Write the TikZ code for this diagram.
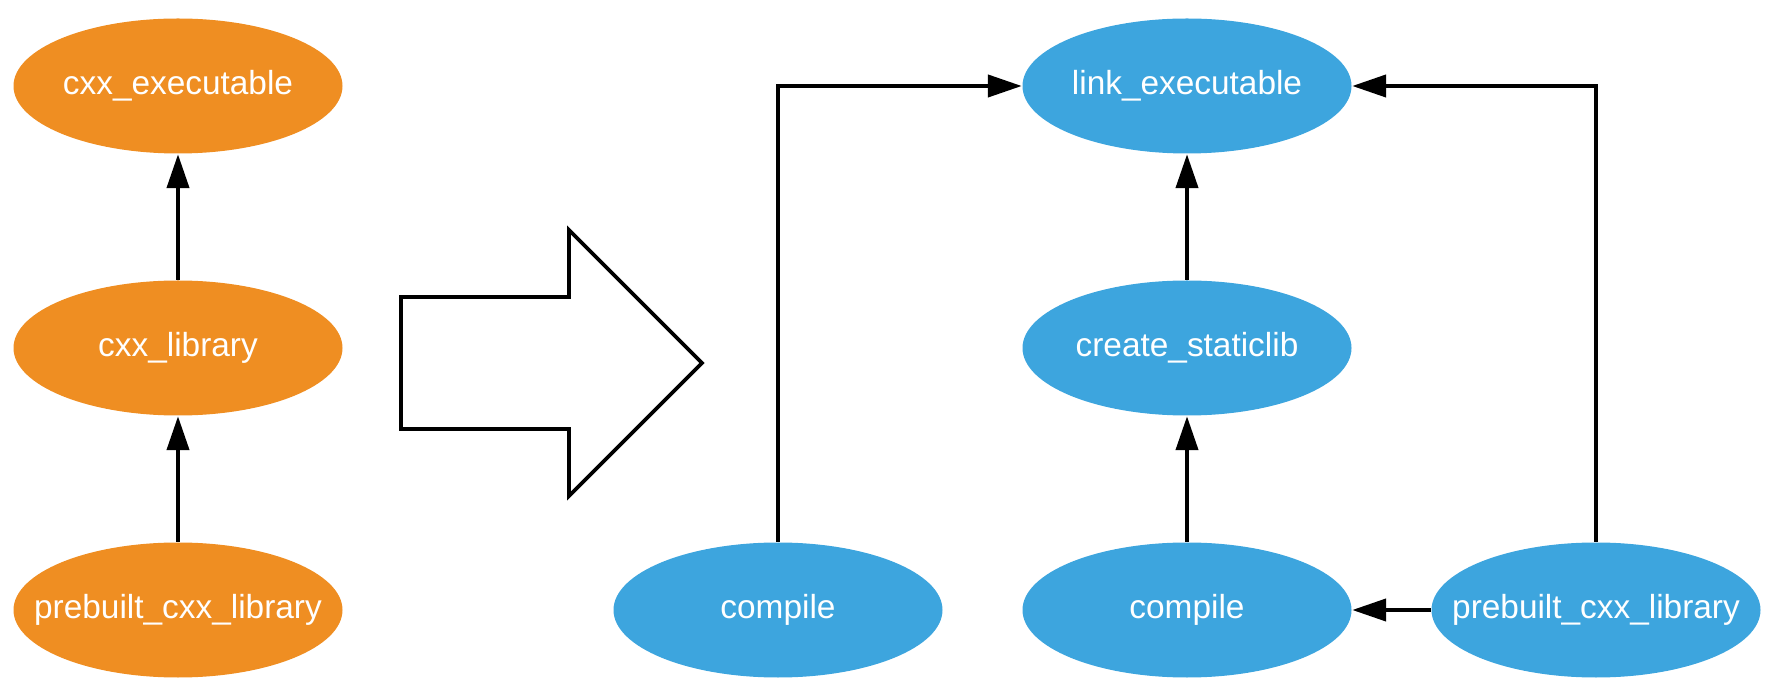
\documentclass[tikz,border=0pt]{standalone}
\usepackage{fontspec}
\setmainfont{Liberation Sans}
\usetikzlibrary{arrows.meta,positioning,shapes.geometric}
\definecolor{ruleOrange}{HTML}{EF8E22}
\definecolor{actionBlue}{HTML}{3DA5DE}

\begin{document}
\begin{tikzpicture}[>={Triangle[length=3.4mm,width=2.2mm]},
  rulenode/.style={ellipse,fill=ruleOrange,text=white,minimum width=3.29cm,minimum height=1.35cm,inner xsep=-3mm,inner ysep=0pt,font=\fontsize{9.5}{11}\selectfont},
  actnode/.style={rulenode,fill=actionBlue},
  edge/.style={->,draw=black,line width=1.2pt}]
\useasboundingbox (0,0) rectangle (17.78,-6.99);
% rule graph
\foreach \i/\name/\y in {0/cxx\_executable/-0.86,1/cxx\_library/-3.48,2/prebuilt\_cxx\_library/-6.10}{
  \node[rulenode] (r\i) at (1.78,\y) {\name};
}
\foreach \i in {0,1}{\pgfmathtruncatemacro{\j}{\i+1}\draw[edge] (r\j) -- (r\i);}
% big arrow
\draw[line width=1.1pt] (4.01,-2.97) -- (5.69,-2.97) -- (5.69,-2.30) -- (7.02,-3.63)
  -- (5.69,-4.96) -- (5.69,-4.29) -- (4.01,-4.29) -- cycle;
% action graph
\node[actnode] (link) at (11.87,-0.86) {link\_executable};
\node[actnode] (slib) at (11.87,-3.48) {create\_staticlib};
\node[actnode] (cr) at (11.87,-6.10) {compile};
\node[actnode] (cl) at (7.78,-6.10) {compile};
\node[actnode] (pb) at (15.96,-6.10) {prebuilt\_cxx\_library};
\draw[edge] (slib) -- (link);
\draw[edge] (cr) -- (slib);
\draw[edge] (cl) |- (link);
\draw[edge] (pb) |- (link);
\draw[edge] (pb) -- (cr);
\end{tikzpicture}
\end{document}
